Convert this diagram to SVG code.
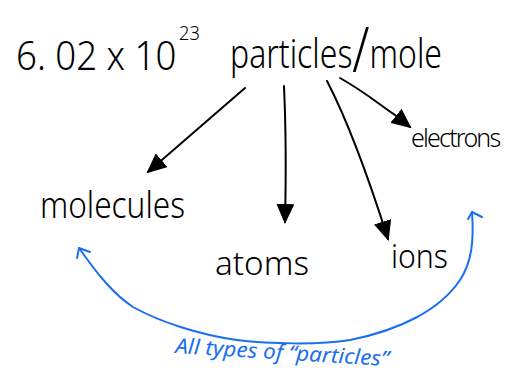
<svg xmlns="http://www.w3.org/2000/svg" width="505" height="382" viewBox="0 0 505 382">
  <defs>
    <style>
      .t { font-family: "Noto Sans", "Liberation Sans", sans-serif; fill: #000; font-weight: 300; }
      .ln { fill: none; stroke: #000; stroke-width: 2; stroke-linecap: round; }
      .bl { fill: none; stroke: #1a6ff0; stroke-width: 2; stroke-linecap: round; stroke-linejoin: round; }
      .bt { font-family: "Noto Sans", "Liberation Sans", sans-serif; fill: #1a6ff0; font-style: italic; }
    </style>
    <marker id="ah" viewBox="0 0 20 18" refX="18" refY="9" markerWidth="20" markerHeight="18" markerUnits="userSpaceOnUse" orient="auto">
      <path d="M0,0 L20,9 L0,18 Z" fill="#000"/>
    </marker>
  </defs>
  <rect width="505" height="382" fill="#fff"/>

  <g id="title">
    <text class="t" x="16" y="70" font-size="40" textLength="184" lengthAdjust="spacingAndGlyphs">6. 02 x 10<tspan font-size="20" dx="3" dy="-30">23</tspan></text>
    <text class="t" x="230" y="68" font-size="40" textLength="212" lengthAdjust="spacingAndGlyphs">particles<tspan font-size="62" dy="4">/</tspan><tspan dy="-4">mole</tspan></text>
  </g>

  <g id="molecules">
    <text class="t" x="40" y="218" font-size="36" textLength="145" lengthAdjust="spacingAndGlyphs">molecules</text>
  </g>
  <g id="atoms">
    <text class="t" x="215" y="275" font-size="33" textLength="94" lengthAdjust="spacingAndGlyphs">atoms</text>
  </g>
  <g id="ions">
    <text class="t" x="391" y="268" font-size="33" textLength="57" lengthAdjust="spacingAndGlyphs">ions</text>
  </g>
  <g id="electrons">
    <text class="t" x="411" y="147" font-size="25" letter-spacing="-1.8">electrons</text>
  </g>

  <g id="connectors">
    <path class="ln" d="M245,88 L148,172" marker-end="url(#ah)"/>
    <path class="ln" d="M284,86 C286,130 286,180 285,222" marker-end="url(#ah)"/>
    <path class="ln" d="M327,81 Q355,135 388,239" marker-end="url(#ah)"/>
    <path class="ln" d="M340,78 C365,92 380,105 395,115 L410,127" marker-end="url(#ah)"/>
    <path class="bl" d="M472,212 C474,240 472,262 460,280 C440,310 400,330 350,340 C320,345 270,344 237,340 C200,335 160,322 133,307 C115,295 100,278 79,248"/>
    <path class="bl" d="M79,248 L90,252 M79,248 L77,258"/>
    <path class="bl" d="M472,212 L468,219 M472,212 L482,217"/>
  </g>

  <g id="label">
    <text class="bt" x="175" y="353" font-size="21" transform="rotate(3.5 175 353)" textLength="214" lengthAdjust="spacingAndGlyphs">All types of “particles”</text>
  </g>
</svg>
